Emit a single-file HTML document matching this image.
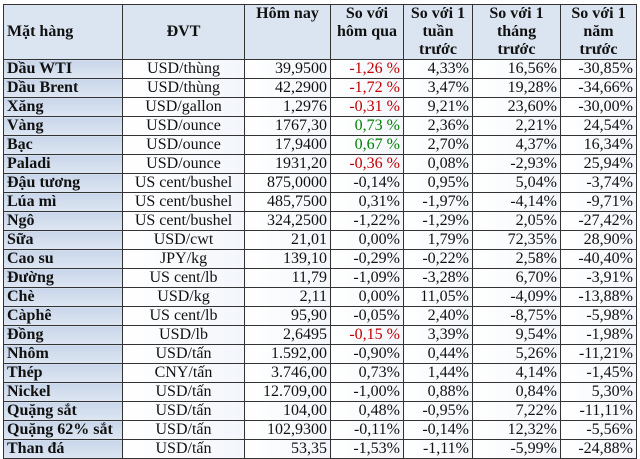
<!DOCTYPE html>
<html><head><meta charset="utf-8"><style>
body{margin:0;background:#fff;width:640px;height:459px;overflow:hidden}
table{position:absolute;left:3px;top:4px;border-collapse:collapse;table-layout:fixed;font-family:"Liberation Serif",serif;font-size:16px;color:#111}
td,th{border:1px solid #333;padding:0 3px;height:18px;line-height:18px;white-space:nowrap;overflow:hidden}
th{background:#dbe5f1;font-weight:bold;height:53px;line-height:18px;vertical-align:top;text-align:center;padding-top:0}
th.mid{vertical-align:middle}
td.n{font-weight:bold;background:linear-gradient(#c9d6ea,#dde6f2);text-align:left}
td.u{text-align:center;background:linear-gradient(90deg,#fff,#f3f6fb)}
td.v{text-align:right;background:linear-gradient(90deg,#fff,#f3f6fb)}
.r{color:#c00000}.g{color:#008000}
</style></head><body>
<table>
<colgroup><col style="width:119px"><col style="width:122px"><col style="width:86px"><col style="width:73px"><col style="width:69px"><col style="width:88px"><col style="width:76px"></colgroup>
<tr>
<th class="mid" style="text-align:left">Mặt hàng</th>
<th class="mid">ĐVT</th>
<th>Hôm nay</th>
<th>So với<br>hôm qua</th>
<th>So với 1<br>tuần<br>trước</th>
<th>So với 1<br>tháng<br>trước</th>
<th>So với 1<br>năm<br>trước</th>
</tr>
<tbody id="tb"></tbody>
</table>
<script>
const names=["Dầu WTI","Dầu Brent","Xăng","Vàng","Bạc","Paladi","Đậu tương","Lúa mì","Ngô","Sữa","Cao su","Đường","Chè","Càphê","Đồng","Nhôm","Thép","Nickel","Quặng sắt","Quặng 62% sắt","Than đá"];
const units=["USD/thùng","USD/thùng","USD/gallon","USD/ounce","USD/ounce","USD/ounce","US cent/bushel","US cent/bushel","US cent/bushel","USD/cwt","JPY/kg","US cent/lb","USD/kg","US cent/lb","USD/lb","USD/tấn","CNY/tấn","USD/tấn","USD/tấn","USD/tấn","USD/tấn"];
const today=["39,9500","42,2900","1,2976","1767,30","17,9400","1931,20","875,0000","485,7500","324,2500","21,01","139,10","11,79","2,11","95,90","2,6495","1.592,00","3.746,00","12.709,00","104,00","102,9300","53,35"];
const dayChg=["-1,26%","-1,72%","-0,31%","0,73%","0,67%","-0,36%","-0,14%","0,31%","-1,22%","0,00%","-0,29%","-1,09%","0,00%","-0,05%","-0,15%","-0,90%","0,73%","-1,00%","0,48%","-0,11%","-1,53%"];
const dayCls=["r","r","r","g","g","r","","","","","","","","","r","","","","","",""];
const weekChg=["4,33%","3,47%","9,21%","2,36%","2,70%","0,08%","0,95%","-1,97%","-1,29%","1,79%","-0,22%","-3,28%","11,05%","2,40%","3,39%","0,44%","1,44%","0,88%","-0,95%","-0,14%","-1,11%"];
const monthChg=["16,56%","19,28%","23,60%","2,21%","4,37%","-2,93%","5,04%","-4,14%","2,05%","72,35%","2,58%","6,70%","-4,09%","-8,75%","9,54%","5,26%","4,14%","0,84%","7,22%","12,32%","-5,99%"];
const yearChg=["-30,85%","-34,66%","-30,00%","24,54%","16,34%","25,94%","-3,74%","-9,71%","-27,42%","28,90%","-40,40%","-3,91%","-13,88%","-5,98%","-1,98%","-11,21%","-1,45%","5,30%","-11,11%","-5,56%","-24,88%"];
const tb=document.getElementById('tb');
names.forEach((n,i)=>{
 const tr=document.createElement('tr');
 
 
 const cells=[[n,'n'],[units[i],'u'],[today[i],'v'],[dayChg[i].replace('%',dayCls[i]?' %':'%'),'v '+dayCls[i]],[weekChg[i],'v'],[monthChg[i],'v'],[yearChg[i],'v']];
 const nm=['commodity','unit','today','vs-yesterday','vs-week','vs-month','vs-year'];
 cells.forEach((c,j)=>{
  const td=document.createElement('td');
  td.className=c[1];td.textContent=c[0];
  
  
  tr.appendChild(td);
 });
 tb.appendChild(tr);
});
</script>
</body></html>
